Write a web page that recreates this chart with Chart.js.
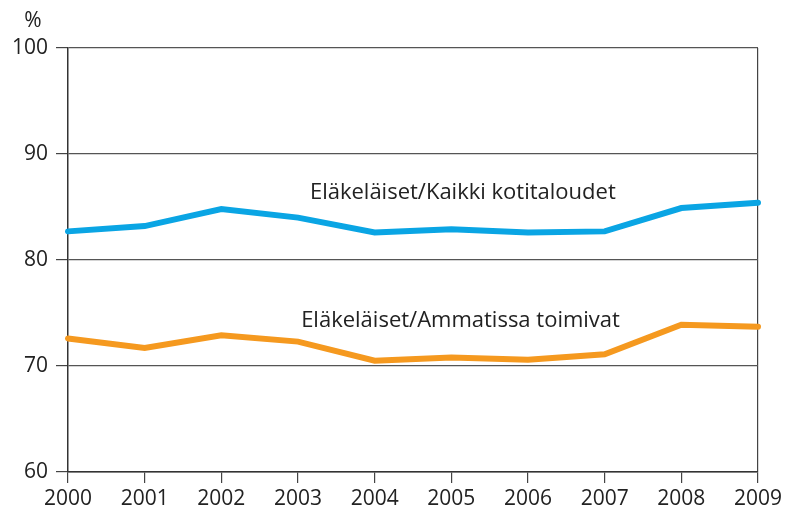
<!DOCTYPE html>
<html>
<head>
<meta charset="utf-8">
<script src="https://cdn.jsdelivr.net/npm/chart.js@4.4.0/dist/chart.umd.min.js"></script>
<style>
  html, body { margin: 0; padding: 0; background: #fff; }
  #wrap { width: 786px; height: 513px; }
</style>
</head>
<body>
<div id="wrap"><canvas id="myChart" width="786" height="513"></canvas></div>
<script>
// years on the x axis
const years = ['2000','2001','2002','2003','2004','2005','2006','2007','2008','2009'];

// pensioners vs all households (%)
const kaikki = [82.7, 83.2, 84.8, 84.0, 82.6, 82.9, 82.6, 82.7, 84.9, 85.4];

// pensioners vs employed (%)
const ammatissa = [72.6, 71.7, 72.9, 72.3, 70.5, 70.8, 70.6, 71.1, 73.9, 73.7];

// series labels written inside the plot
const seriesLabels = ['Eläkeläiset/Kaikki kotitaloudet', 'Eläkeläiset/Ammatissa toimivat'];

const FONT = '"Open Sans", "Liberation Sans", sans-serif';
const TEXT = '#222';

// draws the % unit and the in-plot series names
const labelPlugin = {
  id: 'labels',
  afterDraw(chart) {
    const c = chart.ctx;
    const x = chart.scales.x, y = chart.scales.y;
    c.save();
    c.fillStyle = TEXT;
    c.font = '21px ' + FONT;
    c.textAlign = 'center';
    c.textBaseline = 'middle';
    c.fillText('%', 33, 21);
    c.font = '22px ' + FONT;
    c.fillText(seriesLabels[0], x.getPixelForValue(5.15), y.getPixelForValue(86.3));
    c.fillText(seriesLabels[1], x.getPixelForValue(5.12), y.getPixelForValue(74.3));
    c.restore();
  }
};

const ctx = document.getElementById('myChart').getContext('2d');

const myChart = new Chart(ctx, {
  type: 'line',
  data: {
    labels: years,
    datasets: [{
      label: seriesLabels[0],
      data: kaikki,
      borderColor: '#0aa5e4',
      borderWidth: 6,
      borderCapStyle: 'round',
      pointRadius: 0,
      fill: false,
      tension: 0
    }, {
      label: seriesLabels[1],
      data: ammatissa,
      borderColor: '#f5991f',
      borderWidth: 6,
      borderCapStyle: 'round',
      pointRadius: 0,
      fill: false,
      tension: 0
    }]
  },
  options: {
    responsive: false,
    animation: false,
    layout: { padding: { top: 48, right: 28, left: 0, bottom: 0 } },
    plugins: {
      legend: { display: false },
      tooltip: { enabled: false }
    },
    scales: {
      x: {
        offset: false,
        afterFit(scale) { scale.height = 41; },
        grid: {
          color: (c) => c.index === 9 ? '#444' : 'rgba(0,0,0,0)',
          tickColor: '#444',
          tickLength: 11,
          lineWidth: 1.2
        },
        border: { color: '#333', width: 1.5 },
        ticks: {
          color: TEXT,
          font: { family: FONT, size: 21 },
          padding: 3,
          maxRotation: 0,
          autoSkip: false
        }
      },
      y: {
        min: 60,
        max: 100,
        afterFit(scale) { scale.width = 68; },
        grid: {
          color: '#555',
          tickColor: '#444',
          tickLength: 12,
          lineWidth: 1.2
        },
        border: { color: '#333', width: 1.5 },
        ticks: {
          stepSize: 10,
          color: TEXT,
          font: { family: FONT, size: 21 },
          padding: 8
        }
      }
    }
  },
  plugins: [labelPlugin]
});
</script>
</body>
</html>
